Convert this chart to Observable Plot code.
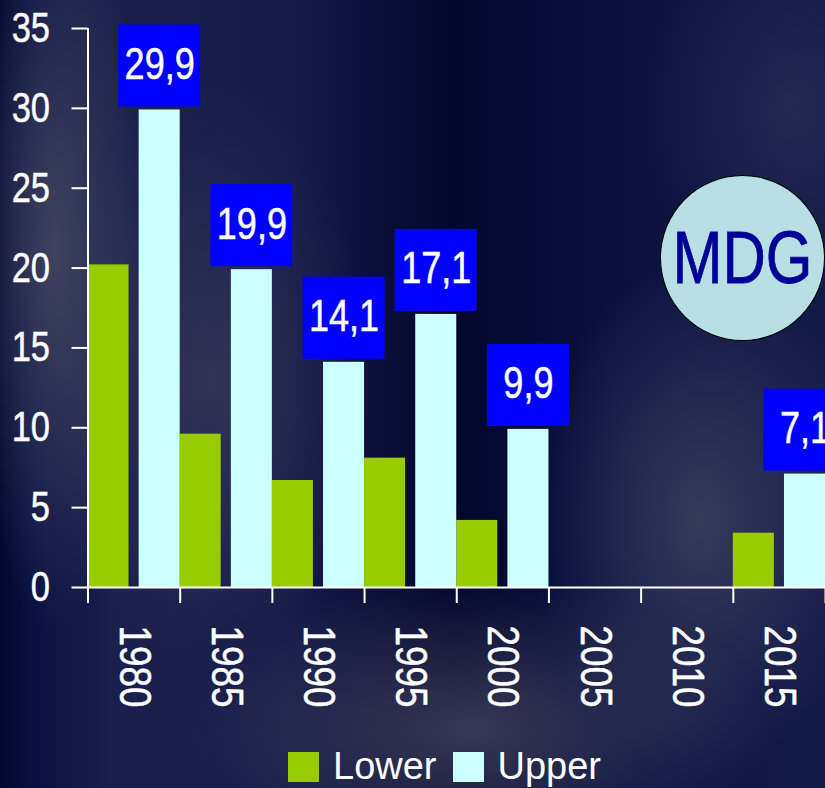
<!DOCTYPE html>
<html>
<head>
<meta charset="utf-8">
<script src="https://cdn.jsdelivr.net/npm/d3@7"></script>
<script src="https://cdn.jsdelivr.net/npm/@observablehq/plot@0.6"></script>
<style>
  html, body { margin: 0; padding: 0; width: 825px; height: 788px; overflow: hidden; }
  body {
    position: relative;
    background:
      radial-gradient(ellipse 90px 380px at 55px 250px, rgba(72,75,100,0.85), rgba(72,75,100,0) 100%),
      radial-gradient(ellipse 160px 300px at 210px 380px, rgba(62,64,92,0.65), rgba(62,64,92,0) 100%),
      radial-gradient(ellipse 300px 150px at 470px 730px, rgba(72,73,98,0.75), rgba(72,73,98,0) 100%),
      radial-gradient(ellipse 170px 260px at 700px 520px, rgba(72,74,100,0.7), rgba(72,74,100,0) 100%),
      radial-gradient(ellipse 150px 190px at 790px 110px, rgba(45,50,85,0.6), rgba(45,50,85,0) 100%),
      linear-gradient(90deg, #02072f 0%, #0a1142 4%, #1a1f4c 14%, #151a47 35%, #03062c 55%, #0a1140 75%, #121a48 100%);
  }
  #chart { position: absolute; left: 0; top: 0; }
  #chart svg text { stroke: #fff; stroke-width: 0.5px; }
  #legend {
    position: absolute; top: 745px; left: 288px;
    display: flex; align-items: center;
    font-family: "Liberation Sans", Arial, sans-serif; font-size: 38px; color: #fff;
  }
  #legend .sw { width: 31px; height: 30px; display: inline-block; margin-right: 14px; }
  #legend .item { display: flex; align-items: center; margin-right: 16px; }
  #mdg {
    position: absolute; left: 660px; top: 175px; width: 165px; height: 166px;
    border-radius: 50%; background: #b8dfe3; border: 1.5px solid #000; box-sizing: border-box;
    display: flex; align-items: center; justify-content: center;
    font-family: "Liberation Sans", Arial, sans-serif; font-size: 75px; color: #000099;
    -webkit-text-stroke: 0.8px #000099;
  }
  #mdg span { display: inline-block; transform: scaleX(0.8); margin-top: -2px; }
</style>
</head>
<body>
<div id="chart"></div>
<div id="mdg"><span>MDG</span></div>
<div id="legend">
  <span class="item"><span class="sw" style="background:#99cc00"></span>Lower</span>
  <span class="item"><span class="sw" style="background:#ccffff"></span>Upper</span>
</div>
<script>
const years = ["1980", "1985", "1990", "1995", "2000", "2005", "2010", "2015"];
const lower = [20.2, 9.6, 6.7, 8.1, 4.2, null, null, 3.4];
const upper = [29.9, 19.9, 14.1, 17.1, 9.9, null, null, 7.1];
const upperLabels = ["29,9", "19,9", "14,1", "17,1", "9,9", null, null, "7,1"];
const yTicks = [0, 5, 10, 15, 20, 25, 30, 35];

const FONT = '"Liberation Sans", Arial, sans-serif';
const rows = years.map((year, i) => ({i, year, lower: lower[i], upper: upper[i], label: upperLabels[i]}));
const lowerRows = rows.filter(d => d.lower != null);
const upperRows = rows.filter(d => d.upper != null);

const chart = Plot.plot({
  width: 825,
  height: 730,
  marginLeft: 87.5,
  marginRight: 0,
  marginTop: 28,
  marginBottom: 143,
  style: {background: "transparent", color: "#fff", fontFamily: FONT, overflow: "visible"},
  x: {domain: [0, years.length], axis: null},
  y: {domain: [0, 35], axis: null},
  marks: [
    Plot.rectY(lowerRows, {x1: d => d.i, x2: d => d.i + 0.445, y: "lower", fill: "#99cc00"}),
    Plot.rectY(upperRows, {x1: d => d.i + 0.555, x2: d => d.i + 1, y: "upper", fill: "#ccffff"}),
    Plot.rect(upperRows, {
      x1: d => d.i + 0.555, x2: d => d.i + 1, y1: "upper", y2: "upper",
      insetTop: -85, insetBottom: 3, insetLeft: -20.5, insetRight: -20.5, fill: "#0000ff"
    }),
    Plot.text(upperRows, {
      x: d => d.i + 0.7775, y: "upper", dy: -45, text: "label",
      fill: "#fff", fontSize: 44
    }),
    Plot.ruleX([0], {y1: 0, y2: 35, stroke: "#fff", strokeWidth: 2}),
    Plot.ruleY([0], {x1: 0, x2: years.length, stroke: "#fff", strokeWidth: 2}),
    Plot.axisY({ticks: yTicks, tickSize: 16, tickPadding: 22, fontSize: 42, strokeWidth: 2, strokeOpacity: 1, label: null}),
    Plot.axisX({ticks: d3.range(0, years.length + 1), tickSize: 16, tickFormat: () => "", strokeWidth: 2, strokeOpacity: 1, label: null}),
    Plot.axisX({
      ticks: years.map((_, i) => i + 0.5), tickSize: 0, tickPadding: 38, tickRotate: 90,
      tickFormat: d => years[Math.floor(d)], fontSize: 45, label: null
    })
  ]
});
// narrow (condensed) lettering like the original: squeeze each text along its own direction
chart.querySelectorAll("text").forEach(t => {
  const tr = t.getAttribute("transform") || "";
  t.setAttribute("transform", (tr + " scale(0.82,1)").trim());
});
document.getElementById("chart").appendChild(chart);
</script>
</body>
</html>
